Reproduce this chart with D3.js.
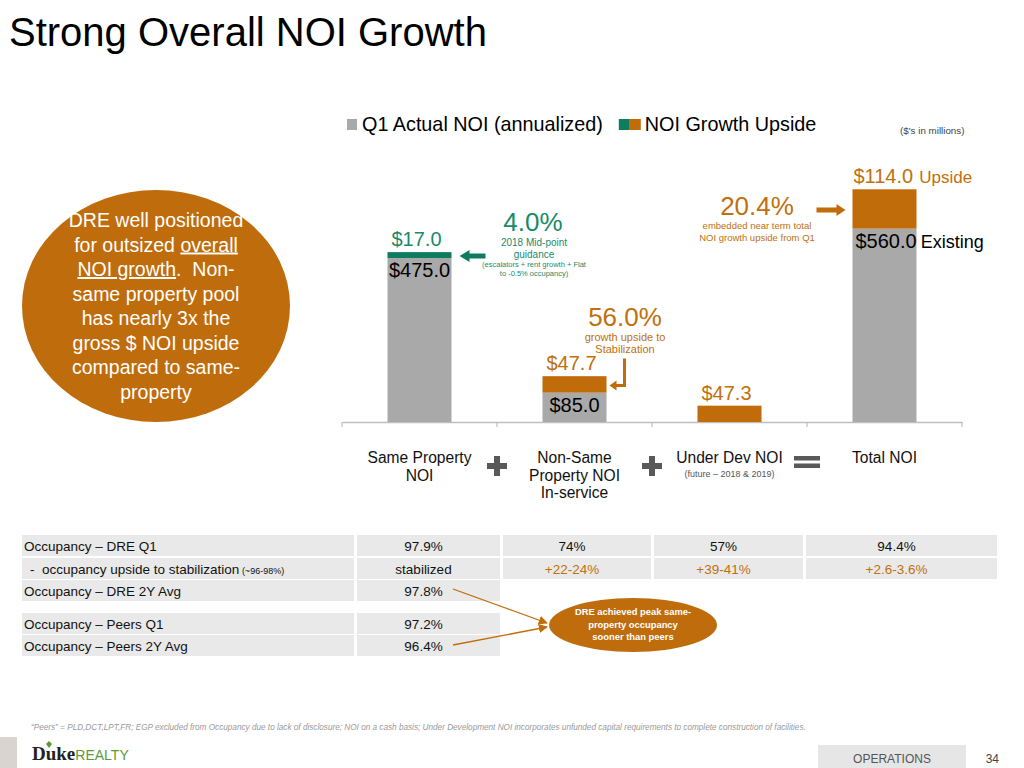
<!DOCTYPE html>
<html><head><meta charset="utf-8">
<script src="https://cdn.jsdelivr.net/npm/d3@7"></script>
<style>
html,body{margin:0;padding:0;background:#fff;}
svg{display:block;font-family:"Liberation Sans",Arial,sans-serif;}
</style></head>
<body>
<svg id="c" width="1024" height="768"></svg>
<script>
// ---------- DATA ----------
const categories = ["Same Property NOI", "Non-Same Property NOI In-service", "Under Dev NOI", "Total NOI"];
const categoryLines = [["Same Property", "NOI"], ["Non-Same", "Property NOI", "In-service"], ["Under Dev NOI"], ["Total NOI"]];
const actualNOI = [475.0, 85.0, 0, 560.0];
const upsideNOI = [17.0, 47.7, 47.3, 114.0];
const upsideKind = ["guidance", "upside", "upside", "upside"];
const legendLabels = ["Q1 Actual NOI (annualized)", "NOI Growth Upside"];

const tableLabels = ["Occupancy – DRE Q1", "-  occupancy upside to stabilization", "Occupancy – DRE 2Y Avg", "Occupancy – Peers Q1", "Occupancy – Peers 2Y Avg"];
const occupancyQ1 = ["97.9%", "74%", "57%", "94.4%"];
const occupancyUpside = ["stabilized", "+22-24%", "+39-41%", "+2.6-3.6%"];
const dre2YAvg = ["97.8%"];
const peersQ1 = ["97.2%"];
const peers2YAvg = ["96.4%"];

// ---------- STYLE ----------
const GRAY = "#a9a9a9", GREEN = "#0f7b5f", ORANGE = "#c06c0a";
const GREEN_T = "#1b8a6b", ORANGE_T = "#c0700c";
const CELL = "#e9e9e9";

const svg = d3.select("#c");

// Title
svg.append("text").attr("x", 9).attr("y", 46).attr("font-size", 40).attr("fill", "#000")
  .text("Strong Overall NOI Growth");

// Legend
svg.append("rect").attr("x", 347).attr("y", 119).attr("width", 10).attr("height", 11).attr("fill", GRAY);
const lt1 = svg.append("text").attr("x", 362).attr("y", 131).attr("font-size", 19.8).text(legendLabels[0]);
const l2x = 362 + lt1.node().getComputedTextLength() + 16;
svg.append("rect").attr("x", l2x).attr("y", 119).attr("width", 11).attr("height", 11).attr("fill", GREEN);
svg.append("rect").attr("x", l2x + 11).attr("y", 119).attr("width", 11).attr("height", 11).attr("fill", ORANGE);
svg.append("text").attr("x", l2x + 26).attr("y", 131).attr("font-size", 19.8).text(legendLabels[1]);
svg.append("text").attr("x", 900).attr("y", 134).attr("font-size", 9.8).attr("fill", "#444").text("($'s in millions)");

// Scales
const x = d3.scaleBand().domain(categories).range([342, 962]).padding(0);
const y = d3.scaleLinear().domain([0, 700]).range([422, 180.3]);
const barW = x.bandwidth() * 0.413;
const bx = c => x(c) + (x.bandwidth() - barW) / 2;

// Axis
const axisG = svg.append("g").attr("transform", `translate(0,${y(0)})`)
  .call(d3.axisBottom(x).tickSize(0).tickFormat(""));
axisG.select(".domain").attr("stroke", "#bfbfbf").attr("stroke-width", 1.5);
const tickPos = categories.map(c => x(c)).concat([x.range()[1]]);
axisG.selectAll("line.bt").data(tickPos).enter().append("line").attr("class", "bt")
  .attr("x1", d => d).attr("x2", d => d).attr("y1", 0).attr("y2", 5)
  .attr("stroke", "#bfbfbf").attr("stroke-width", 1.2);

// Bars
const data = categories.map((c, i) => ({c, a: actualNOI[i], u: upsideNOI[i], k: upsideKind[i]}));
svg.selectAll("rect.act").data(data.filter(d => d.a > 0)).enter().append("rect").attr("class", "act")
  .attr("x", d => bx(d.c)).attr("width", barW)
  .attr("y", d => y(d.a)).attr("height", d => y(0) - y(d.a)).attr("fill", GRAY);
svg.selectAll("rect.up").data(data).enter().append("rect").attr("class", "up")
  .attr("x", d => bx(d.c)).attr("width", barW)
  .attr("y", d => y(d.a + d.u)).attr("height", d => y(d.a) - y(d.a + d.u))
  .attr("fill", d => d.k === "guidance" ? GREEN : ORANGE);

// Value labels
const fmt = v => "$" + v.toFixed(1);
data.forEach((d, i) => {
  const cx = bx(d.c) + barW / 2;
  if (d.a > 0) {
    if (i === 3) {
      const t = svg.append("text").attr("x", bx(d.c) + 3).attr("y", y(d.a) + 19).attr("font-size", 20);
      t.append("tspan").text(fmt(d.a));
      t.append("tspan").attr("font-size", 18).attr("dx", 4).text("Existing");
    } else {
      svg.append("text").attr("x", cx).attr("y", y(d.a) + 19).attr("font-size", 20)
        .attr("text-anchor", "middle").text(fmt(d.a));
    }
  }
  const col = d.k === "guidance" ? GREEN_T : ORANGE_T;
  if (i === 3) {
    const t = svg.append("text").attr("x", bx(d.c) + 1).attr("y", y(d.a + d.u) - 6).attr("font-size", 20).attr("fill", col);
    t.append("tspan").text(fmt(d.u));
    t.append("tspan").attr("font-size", 17).attr("dx", 6).text("Upside");
  } else {
    svg.append("text").attr("x", cx - 3).attr("y", y(d.a + d.u) - 6).attr("font-size", 20)
      .attr("text-anchor", "middle").attr("fill", col).text(fmt(d.u));
  }
});

// Annotations
function lines(xc, y0, arr, size, lh, fill, anchor) {
  return arr.map((s, j) => svg.append("text").attr("x", xc).attr("y", y0 + j * lh).attr("font-size", size)
    .attr("fill", fill).attr("text-anchor", anchor || "middle").text(s));
}
lines(533, 231, ["4.0%"], 26, 0, GREEN_T);
lines(534, 246, ["2018 Mid-point", "guidance"], 10, 12, GREEN_T);
lines(534, 267, ["(escalators + rent growth + Flat", "to -0.5% occupancy)"], 7.5, 9, GREEN_T);
lines(625, 326, ["56.0%"], 26, 0, ORANGE_T);
lines(625, 341, ["growth upside to", "Stabilization"], 11, 12, ORANGE_T);
lines(757, 215, ["20.4%"], 26, 0, ORANGE_T);
lines(757, 229, ["embedded near term total", "NOI growth upside from Q1"], 9.5, 12, ORANGE_T);

// Green arrow (pointing left at the guidance segment)
{
  const d0 = data[0];
  const ay = y(d0.a + d0.u / 2) + 1, ax = bx(d0.c) + barW + 8;
  svg.append("path").attr("fill", GREEN)
    .attr("d", `M${ax},${ay} L${ax + 10},${ay - 6} L${ax + 10},${ay - 2.5} L${ax + 26},${ay - 2.5} L${ax + 26},${ay + 2.5} L${ax + 10},${ay + 2.5} L${ax + 10},${ay + 6} Z`);
}
// Orange right arrow toward total upside
{
  const d3_ = data[3];
  const ay = y(d3_.a + d3_.u / 2) + 1, ax = bx(d3_.c) - 7;
  svg.append("path").attr("fill", ORANGE)
    .attr("d", `M${ax},${ay} L${ax - 9},${ay - 6} L${ax - 9},${ay - 2.5} L${ax - 29},${ay - 2.5} L${ax - 29},${ay + 2.5} L${ax - 9},${ay + 2.5} L${ax - 9},${ay + 6} Z`);
}
// Orange bent arrow toward non-same upside
{
  const d1 = data[1];
  const ay = y(d1.a + d1.u / 2) + 1, ax = bx(d1.c) + barW + 3;
  svg.append("path").attr("fill", "none").attr("stroke", ORANGE).attr("stroke-width", 3)
    .attr("d", `M${ax + 15},${ay - 27} L${ax + 15},${ay} L${ax + 6},${ay}`);
  svg.append("path").attr("fill", ORANGE)
    .attr("d", `M${ax},${ay} L${ax + 7},${ay - 5} L${ax + 7},${ay + 5} Z`);
}

// Category labels
categories.forEach((c, i) => {
  const cx = x(c) + x.bandwidth() / 2;
  lines(cx, 463, categoryLines[i], 15.6, 17.5, "#111");
});
lines(729.5, 477, ["(future – 2018 & 2019)"], 9, 0, "#555");

// Operators
const OP = "#595959";
[x(categories[1]), x(categories[2])].forEach(px => {
  svg.append("rect").attr("x", px - 10).attr("y", 463).attr("width", 20).attr("height", 6).attr("fill", OP);
  svg.append("rect").attr("x", px - 3).attr("y", 456).attr("width", 6).attr("height", 20).attr("fill", OP);
});
{
  const px = x(categories[3]);
  svg.append("rect").attr("x", px - 13).attr("y", 456).attr("width", 26).attr("height", 4.5).attr("fill", OP);
  svg.append("rect").attr("x", px - 13).attr("y", 463.5).attr("width", 26).attr("height", 4.5).attr("fill", OP);
}

// Big ellipse
svg.append("ellipse").attr("cx", 156).attr("cy", 306).attr("rx", 134).attr("ry", 116).attr("fill", "#bf6c0c");
const circLines = ["DRE well positioned", "for outsized overall", "NOI growth.  Non-", "same property pool",
  "has nearly 3x the", "gross $ NOI upside", "compared to same-", "property"];
circLines.forEach((s, j) => {
  const t = svg.append("text").attr("x", 156).attr("y", 227 + j * 24.5).attr("font-size", 19.5)
    .attr("fill", "#fff").attr("text-anchor", "middle").attr("xml:space", "preserve");
  if (j === 1) {
    t.append("tspan").text("for outsized ");
    t.append("tspan").attr("text-decoration", "underline").text("overall");
  } else if (j === 2) {
    t.append("tspan").attr("text-decoration", "underline").text("NOI growth");
    t.append("tspan").text(".  Non-");
  } else t.text(s);
});

// Table
const cols = [[22, 354], [357, 500], [503, 651], [654, 803], [806, 997]];
const rowsY = [535, 558, 580, 613, 635];
const rowH = 21;
const rowVals = [occupancyQ1, occupancyUpside, dre2YAvg, peersQ1, peers2YAvg];
rowsY.forEach((ry, r) => {
  svg.append("rect").attr("x", cols[0][0]).attr("y", ry).attr("width", cols[0][1] - cols[0][0]).attr("height", rowH).attr("fill", CELL);
  const lt = svg.append("text").attr("x", r === 1 ? 30 : 24).attr("y", ry + 15.5).attr("font-size", 13.5).attr("fill", "#111")
    .attr("xml:space", "preserve");
  lt.append("tspan").text(tableLabels[r]);
  if (r === 1) lt.append("tspan").attr("font-size", 9).text(" (~96-98%)");
  rowVals[r].forEach((v, ci) => {
    const cc = cols[ci + 1];
    svg.append("rect").attr("x", cc[0]).attr("y", ry).attr("width", cc[1] - cc[0]).attr("height", rowH).attr("fill", CELL);
    svg.append("text").attr("x", (cc[0] + cc[1]) / 2 - 5).attr("y", ry + 15.5).attr("font-size", 13.5)
      .attr("text-anchor", "middle").attr("fill", (r === 1 && ci > 0) ? ORANGE_T : "#111").text(v);
  });
});

// Callout
const defs = svg.append("defs");
defs.append("marker").attr("id", "ah").attr("viewBox", "0 0 10 10").attr("refX", 9).attr("refY", 5)
  .attr("markerWidth", 7).attr("markerHeight", 7).attr("orient", "auto")
  .append("path").attr("d", "M0,0 L10,5 L0,10 Z").attr("fill", ORANGE);
svg.append("line").attr("x1", 453).attr("y1", 589).attr("x2", 547).attr("y2", 623)
  .attr("stroke", ORANGE).attr("stroke-width", 1.3).attr("marker-end", "url(#ah)");
svg.append("line").attr("x1", 453).attr("y1", 645).attr("x2", 547).attr("y2", 627)
  .attr("stroke", ORANGE).attr("stroke-width", 1.3).attr("marker-end", "url(#ah)");
svg.append("ellipse").attr("cx", 633).attr("cy", 625).attr("rx", 84).attr("ry", 27).attr("fill", "#bf6c0c");
lines(633, 615, ["DRE achieved peak same-", "property occupancy", "sooner than peers"], 9.4, 12.5, "#fff")
  .forEach(t => t.attr("font-weight", "bold"));

// Footer
svg.append("text").attr("x", 31).attr("y", 730).attr("font-size", 8.2).attr("font-style", "italic").attr("fill", "#999")
  .text("“Peers” = PLD,DCT,LPT,FR; EGP excluded from Occupancy due to lack of disclosure; NOI on a cash basis; Under Development NOI incorporates unfunded capital requirements to complete construction of facilities.");
svg.append("rect").attr("x", 0).attr("y", 737).attr("width", 17).attr("height", 31).attr("fill", "#d9d5ce");
{
  const t = svg.append("text").attr("x", 32).attr("y", 760);
  t.append("tspan").attr("font-size", 19).attr("font-weight", "bold").attr("fill", "#222").attr("font-family", "'Liberation Serif',serif").text("Duke");
  t.append("tspan").attr("font-size", 14).attr("fill", "#5b9a3a").text("REALTY");
  svg.append("path").attr("d", "M49,748 L46,744 L49,741 L52,744 Z").attr("fill", "#5b9a3a");
}
svg.append("rect").attr("x", 818).attr("y", 745).attr("width", 148).attr("height", 23).attr("fill", "#e6e6e6");
svg.append("text").attr("x", 892).attr("y", 763).attr("font-size", 12).attr("text-anchor", "middle").attr("fill", "#555").text("OPERATIONS");
svg.append("text").attr("x", 999).attr("y", 763).attr("font-size", 12).attr("text-anchor", "end").attr("fill", "#444").text("34");
</script>
</body></html>
